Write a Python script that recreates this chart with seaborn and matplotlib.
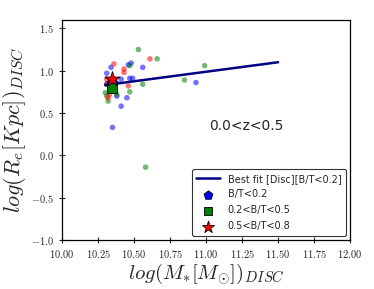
import numpy as np
import pandas as pd
import matplotlib
matplotlib.use("Agg")
import matplotlib.pyplot as plt
import seaborn as sns
from matplotlib.ticker import FuncFormatter

# galaxies by bulge-to-total ratio
bt_low_x = [10.48, 10.46, 10.56, 10.34, 10.31, 10.41, 10.47, 10.49, 10.31, 10.38, 10.45, 10.41, 10.35, 10.93]
bt_low_y = [1.09, 1.07, 1.04, 1.04, 0.97, 0.90, 0.91, 0.91, 0.84, 0.70, 0.68, 0.58, 0.33, 0.86]

bt_mid_x = [10.53, 10.66, 10.99, 10.85, 10.47, 10.56, 10.30, 10.47, 10.32, 10.31, 10.38, 10.58]
bt_mid_y = [1.25, 1.14, 1.06, 0.89, 1.06, 0.84, 0.74, 0.75, 0.64, 0.70, 0.72, -0.14]

bt_high_x = [10.61, 10.43, 10.43, 10.36, 10.31, 10.31, 10.46, 10.33, 10.32]
bt_high_y = [1.14, 1.02, 0.98, 1.08, 0.90, 0.84, 0.82, 0.72, 0.68]

# medians of each group
mean_x = [10.35, 10.35, 10.35]
mean_y = [0.86, 0.79, 0.90]

# best fit for the disc sample
fit_x = [10.30, 11.50]
fit_y = [0.83, 1.10]

sns.set_style("ticks")
plt.rcParams["mathtext.fontset"] = "cm"

fig, ax = plt.subplots(figsize=(3.74, 2.89), dpi=100)
fig.subplots_adjust(left=0.166, right=0.936, top=0.931, bottom=0.170)

for xs, ys, c in [(bt_low_x, bt_low_y, "blue"), (bt_mid_x, bt_mid_y, "green"), (bt_high_x, bt_high_y, "red")]:
    sns.scatterplot(x=xs, y=ys, color=c, alpha=0.55, s=16, edgecolor="none", ax=ax)

sns.lineplot(x=fit_x, y=fit_y, color="navy", lw=1.8, ax=ax, label="Best fit [Disc][B/T<0.2]")

ax.scatter(mean_x[0], mean_y[0], marker="p", s=70, color="blue", edgecolor="black", lw=0.6, label="B/T<0.2", zorder=3)
ax.scatter(mean_x[1], mean_y[1], marker="s", s=45, color="green", edgecolor="black", lw=0.6, label="0.2<B/T<0.5", zorder=4)
ax.scatter(mean_x[2], mean_y[2], marker="*", s=130, color="red", edgecolor="black", lw=0.6, label="0.5<B/T<0.8", zorder=5)

ax.text(11.28, 0.35, "0.0<z<0.5", fontsize=10, ha="center", va="center")

ax.set_xlim(10, 12)
ax.set_ylim(-1, 1.6)
ax.set_xticks(np.arange(10, 12.01, 0.25))
ax.set_yticks([-1.0, -0.5, 0.0, 0.5, 1.0, 1.5])
ax.xaxis.set_major_formatter(FuncFormatter(lambda v, p: r"$%.2f$" % v))
ax.yaxis.set_major_formatter(FuncFormatter(lambda v, p: r"$%.1f$" % v))
ax.tick_params(direction="inout", length=5, width=0.8, labelsize=7.5)
for s in ax.spines.values():
    s.set_linewidth(0.9)
    s.set_color("black")

ax.set_xlabel(r"$log(M_{*}[M_{\odot}])_{DISC}$", fontsize=15, labelpad=1)
ax.set_ylabel(r"$log(R_{e}[Kpc])_{DISC}$", fontsize=16, labelpad=2)

leg = ax.legend(loc="lower right", fontsize=7, frameon=True, edgecolor="black",
                fancybox=True, borderpad=0.5, handlelength=2.4, labelspacing=0.6,
                markerscale=0.8, borderaxespad=0.4)
leg.get_frame().set_linewidth(0.8)

fig.savefig("out.png", dpi=100)
